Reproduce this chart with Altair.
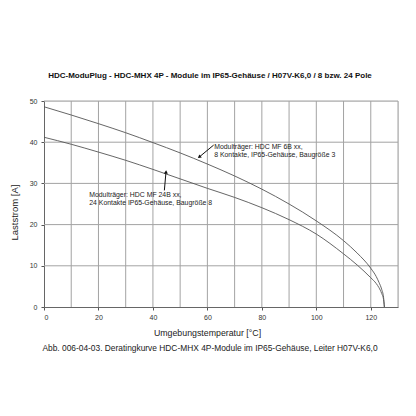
import altair as alt
import pandas as pd

# ---- data ----
temps = [0, 10, 20, 30, 40, 50, 60, 70, 80, 90, 100, 110, 115, 120, 122, 123, 124, 124.7, 125]
upper = [48.6, 46.6, 44.5, 42.3, 39.9, 37.4, 34.7, 31.8, 28.6, 25.0, 20.9, 16.1, 13.1, 9.4, 7.4, 6.0, 4.3, 2.3, 0.0]
lower = [41.2, 39.5, 37.6, 35.6, 33.4, 31.1, 28.8, 26.6, 24.1, 21.2, 17.7, 12.9, 10.2, 7.1, 5.7, 4.7, 3.3, 1.8, 0.0]
series_names = ["HDC MF 6B", "HDC MF 24B"]

x_grid = [10, 20, 30, 40, 50, 60, 70, 80, 90, 100, 110, 120, 130]
y_grid = [10, 20, 30, 40, 50]
x_ticks = list(range(0, 131, 5))

label_texts = [
    ["Modulträger: HDC MF 6B xx,", "8 Kontakte, IP65-Gehäuse, Baugröße 3"],
    ["Modulträger: HDC MF 24B xx,", "24 Kontakte IP65-Gehäuse, Baugröße 8"],
]
label_x = [62.5, 16.6]
label_y = [38.85, 27.3]
arrow_x1 = [62.3, 44.2]
arrow_y1 = [39.3, 28.3]
arrow_x2 = [57.0, 44.8]
arrow_y2 = [36.4, 32.8]
arrow_angle = [231, 5]

title_text = "HDC-ModuPlug - HDC-MHX 4P - Module im IP65-Gehäuse / H07V-K6,0 / 8 bzw. 24 Pole"
caption_text = "Abb. 006-04-03. Deratingkurve HDC-MHX 4P-Module im IP65-Gehäuse, Leiter H07V-K6,0"

rows = []
for name, vals in zip(series_names, [upper, lower]):
    for t, v in zip(temps, vals):
        rows.append({"serie": name, "t": t, "I": v})
curves_df = pd.DataFrame(rows)

ann_df = pd.DataFrame({
    "text": label_texts, "x": label_x, "y": label_y,
    "x1": arrow_x1, "y1": arrow_y1, "x2": arrow_x2, "y2": arrow_y2,
    "angle": arrow_angle,
})

FONT = "Liberation Sans"
W, H = 354, 206
GRID = "#a3a3a3"

xscale = alt.Scale(domain=[0, 130], nice=False)
yscale = alt.Scale(domain=[0, 50], nice=False)

xaxis = alt.Axis(
    values=x_ticks,
    labelExpr="datum.value % 10 === 0 ? datum.label : ''",
    labelOverlap=False,
    grid=False,
    tickSize=3,
    tickColor="#555",
    domainColor="#666",
    labelFont=FONT, labelFontSize=7, labelColor="#333", labelPadding=3,
    title="Umgebungstemperatur [°C]",
    titleFont=FONT, titleFontSize=8.8, titleFontWeight="normal", titleColor="#222",
    titlePadding=8, titleX=163,
)
yaxis = alt.Axis(
    values=list(range(0, 51, 10)),
    grid=False,
    tickSize=3, tickColor="#555", domainColor="#666",
    labelFont=FONT, labelFontSize=7, labelColor="#333", labelPadding=4,
    title="Laststrom [A]",
    titleFont=FONT, titleFontSize=9.5, titleFontWeight="normal", titleColor="#222",
    titlePadding=10, titleY=111,
)

vgrid = alt.Chart(pd.DataFrame({"g": x_grid})).mark_rule(color=GRID, strokeWidth=1).encode(
    x=alt.X("g:Q", scale=xscale, axis=xaxis),
)
hgrid = alt.Chart(pd.DataFrame({"g": y_grid})).mark_rule(color=GRID, strokeWidth=1).encode(
    y=alt.Y("g:Q", scale=yscale, axis=yaxis),
)

lines = alt.Chart(curves_df).mark_line(color="#555", strokeWidth=0.9, interpolate="monotone").encode(
    x=alt.X("t:Q", scale=xscale, axis=xaxis),
    y=alt.Y("I:Q", scale=yscale, axis=yaxis),
    detail="serie:N",
)

labels = alt.Chart(ann_df).mark_text(
    align="left", baseline="middle", font=FONT, fontSize=6.9, color="#222", lineHeight=8.5
).encode(x=alt.X("x:Q", scale=xscale), y=alt.Y("y:Q", scale=yscale), text="text")

arrows = alt.Chart(ann_df).mark_rule(color="#111", strokeWidth=1).encode(
    x=alt.X("x1:Q", scale=xscale), y=alt.Y("y1:Q", scale=yscale),
    x2="x2:Q", y2="y2:Q",
)
heads = alt.Chart(ann_df).mark_point(shape="triangle-up", filled=True, color="#111", size=16, opacity=1).encode(
    x=alt.X("x2:Q", scale=xscale), y=alt.Y("y2:Q", scale=yscale),
    angle=alt.Angle("angle:Q", scale=None),
)

caption = alt.Chart(pd.DataFrame({"c": [caption_text]})).mark_text(
    align="center", baseline="middle", font=FONT, fontSize=8.4, color="#222"
).encode(x=alt.value(166), y=alt.value(H + 41), text="c:N")

chart = alt.layer(vgrid, hgrid, lines, labels, arrows, heads, caption).properties(
    width=W, height=H,
    autosize=alt.AutoSizeParams(type="none"),
    padding={"left": 36, "top": 93, "right": 10, "bottom": 95},
    title=alt.TitleParams(
        title_text, font=FONT, fontSize=8, fontWeight="bold", color="#111",
        anchor="middle", dx=-11, offset=17,
    ),
).configure_view(stroke="#666", strokeWidth=1).configure(background="white")

chart.save("out.html", embed_options={"renderer": "svg", "actions": False})
